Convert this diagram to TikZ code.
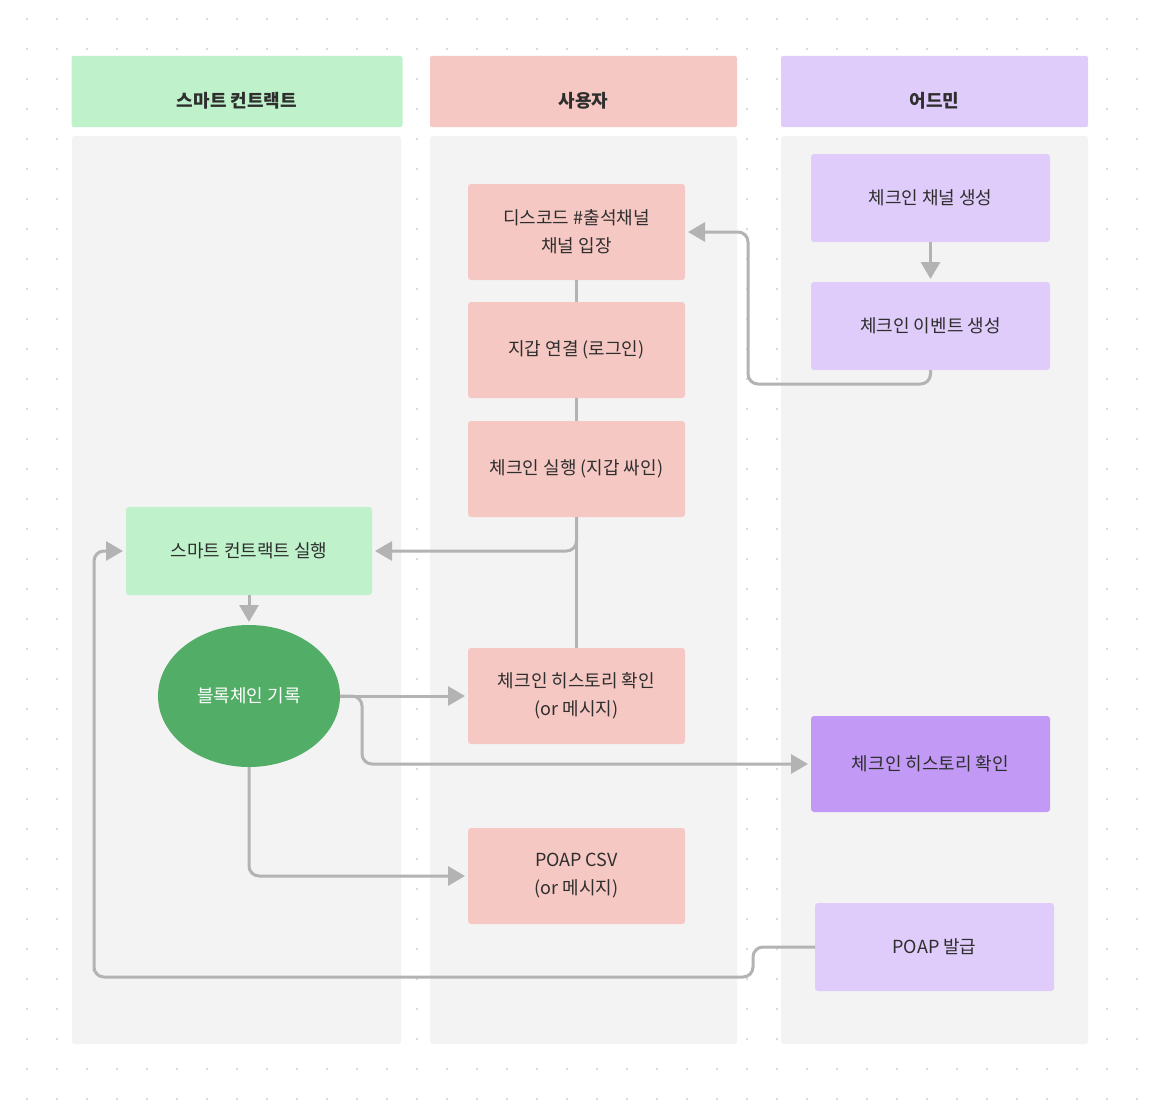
\documentclass[tikz,border=0pt]{standalone}
\usepackage{fontspec}
\setmainfont{Noto Sans CJK KR}
\usetikzlibrary{arrows.meta,shapes.geometric,calc}
\definecolor{hgreen}{HTML}{BFF2CB}
\definecolor{hpink}{HTML}{F6C8C3}
\definecolor{hpurple}{HTML}{E0CCFA}
\definecolor{dpurple}{HTML}{C29AF6}
\definecolor{egreen}{HTML}{52AD66}
\definecolor{lanegray}{HTML}{F3F3F3}
\definecolor{conngray}{HTML}{B3B3B3}
\definecolor{dotgray}{HTML}{CFCFCF}
\definecolor{txt}{HTML}{2E2E2E}
\begin{document}
\begin{tikzpicture}[x=1pt,y=-1pt,
  hdr/.style={rectangle, rounded corners=2, outer sep=0, inner sep=0, minimum height=71},
  hdrtext/.style={inner sep=0, text=txt, font=\fontsize{18}{22}\selectfont\bfseries},
  box/.style={rectangle, rounded corners=3, outer sep=0, inner sep=0, text=txt,
    align=center, font=\fontsize{18}{28}\selectfont},
  pinkbox/.style={box, fill=hpink, minimum width=217, minimum height=96},
  purpbox/.style={box, fill=hpurple, minimum width=239, minimum height=88},
  conn/.style={draw=conngray, line width=3pt, rounded corners=10},
  arr/.style={-{Triangle[length=17pt,width=19pt]}, shorten >=3pt}
]
\fill[white] (0,0) rectangle (1164,1116);
\useasboundingbox (0,0) rectangle (1164,1116);
\foreach \i in {0,...,37}{
  \foreach \j in {0,...,36}{
    \fill[dotgray] (27+30*\i,19+30*\j) circle (1.1);
  }
}
% lanes
\fill[lanegray, rounded corners=3] (72,136) rectangle (401,1044);
\fill[lanegray, rounded corners=3] (430,136) rectangle (737,1044);
\fill[lanegray, rounded corners=3] (781,136) rectangle (1088,1044);
% headers
\node[hdr, fill=hgreen, minimum width=331] (h1) at (237,91.5) {};
\node[hdr, fill=hpink, minimum width=307] (h2) at (583.5,91.5) {};
\node[hdr, fill=hpurple, minimum width=307] (h3) at (934.5,91.5) {};
\node[hdrtext] (t1) at ($(h1.center)+(0,9)$) {스마트 컨트랙트};
\node[hdrtext] (t2) at ($(h2.center)+(0,9)$) {사용자};
\node[hdrtext] (t3) at ($(h3.center)+(0,9)$) {어드민};
% user nodes
\node[pinkbox] (disc) at (576.5,232) {디스코드 \#출석채널\\채널 입장};
\node[pinkbox] (wallet) at (576.5,350) {지갑 연결 (로그인)};
\node[pinkbox] (checkin) at (576.5,469) {체크인 실행 (지갑 싸인)};
\node[pinkbox] (hist1) at (576.5,696) {체크인 히스토리 확인\\(or 메시지)};
\node[pinkbox] (csv) at (576.5,876) {POAP CSV\\(or 메시지)};
% admin nodes
\node[purpbox] (chan) at (930.5,198) {체크인 채널 생성};
\node[purpbox] (event) at (930.5,326) {체크인 이벤트 생성};
\node[box, fill=dpurple, minimum width=239, minimum height=96] (hist2) at (930.5,764) {체크인 히스토리 확인};
\node[purpbox] (poap) at (934.5,947) {POAP 발급};
% contract nodes
\node[box, fill=hgreen, minimum width=246, minimum height=88] (sc) at (249,551) {스마트 컨트랙트 실행};
\node[ellipse, fill=egreen, outer sep=0, inner sep=0, minimum width=182, minimum height=142,
  text=white, font=\fontsize{18}{22}\selectfont] (rec) at (249,696) {블록체인 기록};
% helper coordinates
\coordinate (k1) at ($(disc.east)+(63,0)$);
\coordinate (k2) at ($(rec.east)+(22,0)$);
\coordinate (k3) at ($(poap.west)+(-62,0)$);
\coordinate (k4) at ($(poap.west)+(-62,30)$);
\coordinate (k5) at ($(sc.west)+(-32,426)$);
% connectors
\draw[conn] (disc.south) -- (wallet.north);
\draw[conn] (wallet.south) -- (checkin.north);
\draw[conn] (checkin.south) -- (hist1.north);
\draw[conn, arr] (checkin.south) |- (sc.east);
\draw[conn, arr] (chan.south) -- (event.north);
\draw[conn, arr] (event.south) -- ++(0,14) -| (k1) -- (disc.east);
\draw[conn, arr] (sc.south) -- (rec.north);
\draw[conn, arr] (rec.east) -- (hist1.west);
\draw[conn, arr] (rec.east) -- (k2) |- (hist2.west);
\draw[conn, arr] (rec.south) |- (csv.west);
\draw[conn, arr] (poap.west) -- (k3) -- (k4) -| (k5) |- (sc.west);
\end{tikzpicture}
\end{document}
